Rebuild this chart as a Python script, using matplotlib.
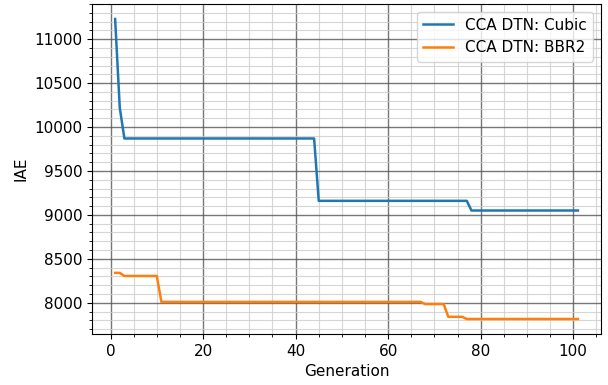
import numpy as np
import matplotlib
matplotlib.use('Agg')
import matplotlib.pyplot as plt

# Generation index
generation = np.arange(1, 102)

# IAE per generation, read as step levels: (last generation, value)
cubic_steps = [(1, 11230), (2, 10220), (44, 9870), (77, 9160), (101, 9050)]
bbr2_steps = [(2, 8340), (10, 8305), (67, 8010), (72, 7985), (76, 7840), (101, 7815)]


def expand(steps):
    vals = []
    start = 1
    for end, v in steps:
        vals += [v] * (end - start + 1)
        start = end + 1
    return np.array(vals)


cubic = expand(cubic_steps)
bbr2 = expand(bbr2_steps)

fig = plt.figure(figsize=(6.08, 3.85), dpi=100)
ax = fig.add_axes([92 / 608, 51 / 385, 509 / 608, 330 / 385])

ax.plot(generation, cubic, color='#1f77b4', lw=1.8, label='CCA DTN: Cubic')
ax.plot(generation, bbr2, color='#ff7f0e', lw=1.8, label='CCA DTN: BBR2')

ax.minorticks_on()
ax.grid(which='major', color='#555555', lw=1.0, alpha=0.8)
ax.grid(which='minor', color='#cccccc', lw=0.8, alpha=0.8)
ax.set_axisbelow(True)

ax.tick_params(labelsize=11)
ax.set_xlabel('Generation', fontsize=11)
ax.set_ylabel('IAE', fontsize=11)
ax.legend(loc='upper right', fontsize=11)

fig.savefig('out.png', dpi=100)
